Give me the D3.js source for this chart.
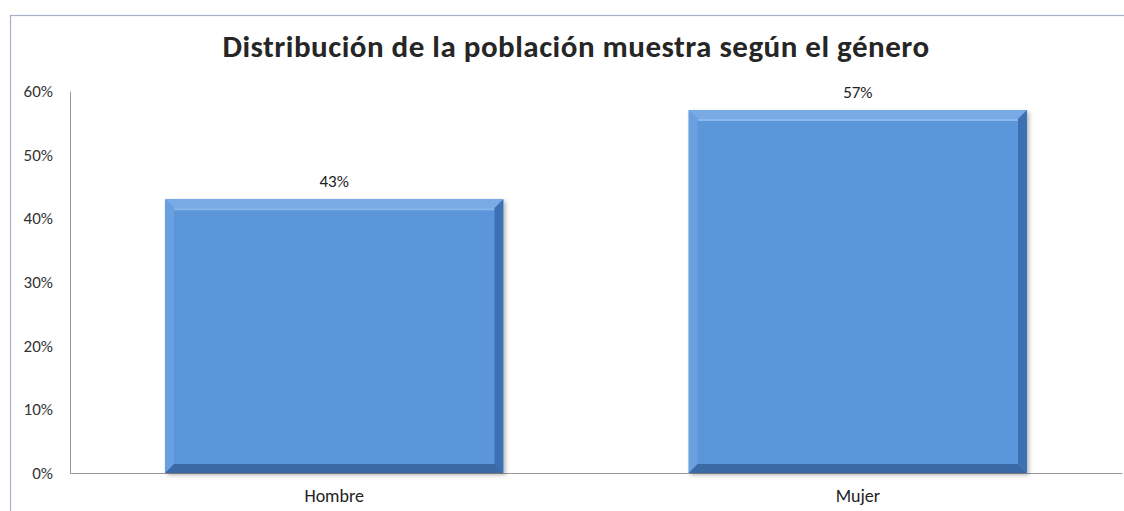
<!DOCTYPE html>
<html><head><meta charset="utf-8">
<script src="https://cdn.jsdelivr.net/npm/d3@7"></script>
<style>body{margin:0;background:#fff}svg{display:block}</style>
</head><body>
<svg id="c" width="1124" height="511"></svg>
<script>
const categories = ["Hombre", "Mujer"];
const values = [0.43, 0.57];
const valueLabels = ["43%", "57%"];
const yTicks = [0, 0.1, 0.2, 0.3, 0.4, 0.5, 0.6];
const title = "Distribución de la población muestra según el género";

const svg = d3.select("#c");
const W = 1124, H = 511;
const m = {left: 70, right: 2, top: 91, bottom: 38};
const font = "Carlito, Lato, sans-serif";

// chart border
svg.append("rect").attr("x", 10.5).attr("y", 15.5).attr("width", W + 20).attr("height", H + 20)
  .attr("fill", "#fff").attr("stroke", "#a8b0c8").attr("stroke-width", 1.2);

const x = d3.scaleBand().domain(categories).range([m.left, W - m.right]).paddingInner(0.354).paddingOuter(0.1815);
const y = d3.scaleLinear().domain([0, 0.6]).range([H - m.bottom, m.top]);

svg.append("text").attr("x", 576).attr("y", 57).attr("text-anchor", "middle")
  .attr("font-family", font).attr("font-weight", "bold").attr("font-size", 31)
  .attr("letter-spacing", 0.5)
  .attr("fill", "#262626").text(title);

// y axis
const ya = svg.append("g").attr("transform", `translate(${m.left},0)`)
  .call(d3.axisLeft(y).tickValues(yTicks).tickFormat(d3.format(".0%")).tickSize(0).tickPadding(17));
ya.select(".domain").attr("stroke", "#999");
ya.selectAll("text").attr("font-family", font).attr("font-size", 17).attr("fill", "#333");

// x axis
const xa = svg.append("g").attr("transform", `translate(0,${y(0)})`)
  .call(d3.axisBottom(x).tickSize(0).tickPadding(16));
xa.select(".domain").attr("stroke", "#999");
xa.selectAll("text").attr("font-family", font).attr("font-size", 18).attr("fill", "#222");

// defs
const defs = svg.append("defs");
const f = defs.append("filter").attr("id", "sh").attr("x", "-10%").attr("y", "-10%").attr("width", "130%").attr("height", "130%");
f.append("feGaussianBlur").attr("in", "SourceAlpha").attr("stdDeviation", 2);
f.append("feOffset").attr("dx", 2).attr("dy", 2).attr("result", "b");
f.append("feComponentTransfer").append("feFuncA").attr("type", "linear").attr("slope", 0.3);
const mg = f.append("feMerge"); mg.append("feMergeNode"); mg.append("feMergeNode").attr("in", "SourceGraphic");

const bev = 9;
const bars = svg.append("g").selectAll("g").data(categories).join("g").attr("filter", "url(#sh)");
bars.each(function(c, i) {
  const g = d3.select(this);
  const x0 = x(c), x1 = x(c) + x.bandwidth(), y0 = y(values[i]), y1 = y(0);
  g.append("rect").attr("x", x0).attr("y", y0).attr("width", x1 - x0).attr("height", y1 - y0).attr("fill", "#5a94d8");
  const poly = (pts, col) => g.append("polygon").attr("points", pts.map(p => p.join(",")).join(" ")).attr("fill", col);
  poly([[x0, y0], [x1, y0], [x1 - bev, y0 + bev], [x0 + bev, y0 + bev]], "#78aae6");
  poly([[x0, y0], [x0 + bev, y0 + bev], [x0 + bev, y1 - bev], [x0, y1]], "#6aa0e0");
  poly([[x1, y0], [x1, y1], [x1 - bev, y1 - bev], [x1 - bev, y0 + bev]], "#3e70b2");
  poly([[x0, y1], [x1, y1], [x1 - bev, y1 - bev], [x0 + bev, y1 - bev]], "#3b69a6");
  g.append("rect").attr("x", x0 + bev).attr("y", y0 + bev).attr("width", x1 - x0 - 2 * bev).attr("height", y1 - y0 - 2 * bev).attr("fill", "#5c96da");
  g.append("line").attr("x1", x0 + bev).attr("x2", x1 - bev).attr("y1", y0 + bev + 1).attr("y2", y0 + bev + 1)
    .attr("stroke", "#8ab8ec").attr("stroke-width", 2);
});

svg.append("g").selectAll("text").data(categories).join("text")
  .attr("x", c => x(c) + x.bandwidth() / 2).attr("y", (c, i) => y(values[i]) - 12)
  .attr("text-anchor", "middle").attr("font-family", font).attr("font-size", 17).attr("fill", "#222")
  .text((c, i) => valueLabels[i]);
</script>
</body></html>
